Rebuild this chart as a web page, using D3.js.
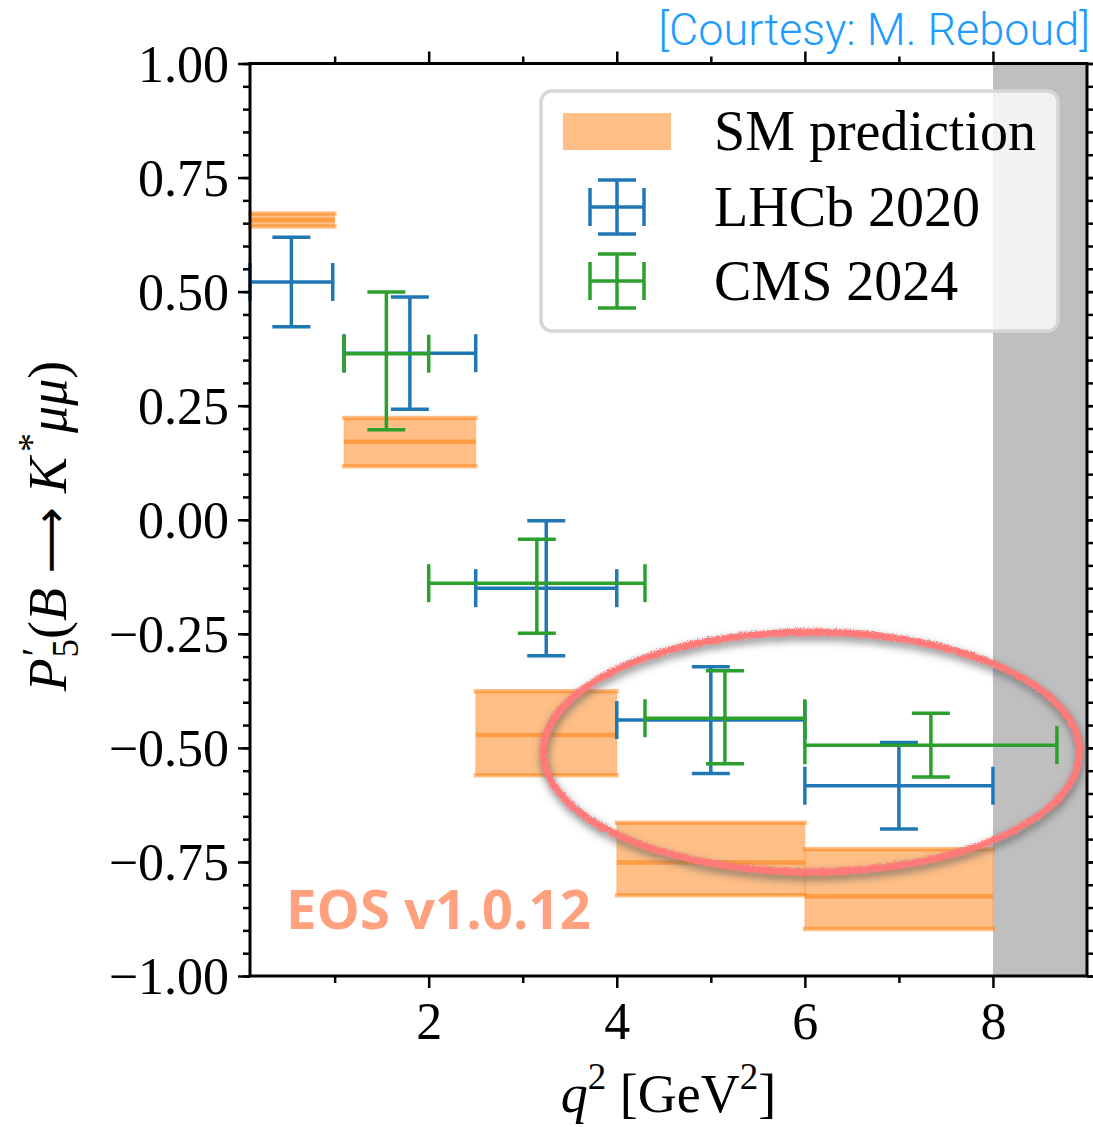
<!DOCTYPE html>
<html>
<head>
<meta charset="utf-8">
<script src="https://cdn.jsdelivr.net/npm/d3@7"></script>
<style>
  html, body { margin: 0; padding: 0; background: #fff; }
  svg { display: block; }
</style>
</head>
<body>
<svg id="chart" width="1093" height="1127"></svg>
<script>
// q^2 bins and values of the angular observable P5' for B -> K* mu mu

// SM prediction (EOS): bin edges, central value, band limits
const smBinLow   = [0.1, 1.1, 2.5, 4.0, 6.0];
const smBinHigh  = [1.0, 2.5, 4.0, 6.0, 8.0];
const smCentral  = [0.657, 0.171, -0.472, -0.751, -0.825];
const smBandLow  = [0.643, 0.117, -0.560, -0.823, -0.897];
const smBandHigh = [0.671, 0.223, -0.376, -0.664, -0.722];

// LHCb 2020 measurement
const lhcbX      = [0.54, 1.8, 3.25, 5.0, 7.0];
const lhcbXLow   = [0.1, 1.1, 2.5, 4.0, 6.0];
const lhcbXHigh  = [0.98, 2.5, 4.0, 6.0, 8.0];
const lhcbY      = [0.521, 0.365, -0.150, -0.439, -0.583];
const lhcbErrUp  = [0.098, 0.123, 0.148, 0.117, 0.095];
const lhcbErrDn  = [0.098, 0.123, 0.148, 0.117, 0.095];

// CMS 2024 measurement
const cmsX       = [1.55, 3.15, 5.15, 7.34];
const cmsXLow    = [1.1, 2.0, 4.3, 6.0];
const cmsXHigh   = [2.0, 4.3, 6.0, 8.68];
const cmsY       = [0.364, -0.139, -0.435, -0.494];
const cmsErrUp   = [0.135, 0.096, 0.104, 0.070];
const cmsErrDn   = [0.167, 0.110, 0.100, 0.070];

// Axis ticks
const xMajorTicks = [2, 4, 6, 8];
const xMinorTicks = [1, 3, 5, 7];
const yMajorTicks = [-1.0, -0.75, -0.5, -0.25, 0.0, 0.25, 0.5, 0.75, 1.0];
const yMinorTicks = d3.range(-20, 21).map(i => i * 0.05);

// Excluded region (charmonium) and highlighted region
const vetoRange = [8.0, 9.0];
const highlight = { cx: 6.07, cy: -0.509, rx: 2.85, ry: 0.263 };

const legendLabels = ["SM prediction", "LHCb 2020", "CMS 2024"];

// ---------------------------------------------------------------
const svg = d3.select("#chart");
const plot = { left: 250, right: 1087, top: 63.5, bottom: 976 };

const x = d3.scaleLinear().domain([0.1, 9]).range([plot.left, plot.right]);
const y = d3.scaleLinear().domain([-1, 1]).range([plot.bottom, plot.top]);

const ORANGE = "#ff7f0e", BLUE = "#1f77b4", GREEN = "#2ca02c";
const serif = "'Liberation Serif', 'DejaVu Serif', serif";

// filters for the hand-drawn ring
const defs = svg.append("defs");
const f = defs.append("filter").attr("id", "rough")
  .attr("x", "-15%").attr("y", "-30%").attr("width", "130%").attr("height", "160%");
f.append("feTurbulence").attr("type", "fractalNoise").attr("baseFrequency", 1.2)
  .attr("numOctaves", 3).attr("seed", 5).attr("result", "noise");
f.append("feDisplacementMap").attr("in", "SourceGraphic").attr("in2", "noise")
  .attr("scale", 6).attr("xChannelSelector", "R").attr("yChannelSelector", "G").attr("result", "rough");
f.append("feGaussianBlur").attr("in", "rough").attr("stdDeviation", 4.5).attr("result", "blur");
f.append("feOffset").attr("in", "blur").attr("dx", 1).attr("dy", 4).attr("result", "off");
f.append("feColorMatrix").attr("in", "off").attr("type", "matrix")
  .attr("values", "0 0 0 0 0.12  0 0 0 0 0.12  0 0 0 0 0.12  0 0 0 0.85 0").attr("result", "shadow");
const fm = f.append("feMerge");
fm.append("feMergeNode").attr("in", "shadow");
fm.append("feMergeNode").attr("in", "rough");

// excluded region
svg.append("rect")
  .attr("x", x(vetoRange[0])).attr("y", plot.top)
  .attr("width", x(vetoRange[1]) - x(vetoRange[0]))
  .attr("height", plot.bottom - plot.top)
  .attr("fill", "#bfbfbf");

// SM prediction bands
const sm = smCentral.map((c, i) => ({ x0: smBinLow[i], x1: smBinHigh[i], c, lo: smBandLow[i], hi: smBandHigh[i] }));
const smG = svg.append("g");
smG.selectAll("rect.band").data(sm).join("rect")
  .attr("class", "band")
  .attr("x", d => x(d.x0)).attr("width", d => x(d.x1) - x(d.x0))
  .attr("y", d => y(d.hi)).attr("height", d => y(d.lo) - y(d.hi))
  .attr("fill", ORANGE).attr("fill-opacity", 0.5)
  .attr("stroke", ORANGE).attr("stroke-opacity", 0.2).attr("stroke-width", 1.5);
["lo", "hi"].forEach(k => {
  smG.selectAll("line.edge-" + k).data(sm).join("line")
    .attr("x1", d => x(d.x0) - 2).attr("x2", d => x(d.x1) + 2)
    .attr("y1", d => y(d[k])).attr("y2", d => y(d[k]))
    .attr("stroke", ORANGE).attr("stroke-opacity", 0.5).attr("stroke-width", 4.5);
});
smG.selectAll("line.central").data(sm).join("line")
  .attr("x1", d => x(d.x0)).attr("x2", d => x(d.x1))
  .attr("y1", d => y(d.c)).attr("y2", d => y(d.c))
  .attr("stroke", ORANGE).attr("stroke-opacity", 0.55).attr("stroke-width", 4.5);

// error bars
const CAP = 19;
function errorBars(rows, color) {
  const g = svg.append("g").attr("stroke", color).attr("stroke-width", 3.5).attr("fill", "none");
  rows.forEach(d => {
    const yc = y(d.v), xc = x(d.xc);
    g.append("line").attr("x1", x(d.xl)).attr("x2", x(d.xh)).attr("y1", yc).attr("y2", yc);
    g.append("line").attr("x1", xc).attr("x2", xc).attr("y1", y(d.v + d.up)).attr("y2", y(d.v - d.dn));
    [d.xl, d.xh].forEach(xe => g.append("line")
      .attr("x1", x(xe)).attr("x2", x(xe)).attr("y1", yc - CAP).attr("y2", yc + CAP));
    [d.v + d.up, d.v - d.dn].forEach(ye => g.append("line")
      .attr("x1", xc - CAP).attr("x2", xc + CAP).attr("y1", y(ye)).attr("y2", y(ye)));
  });
}
errorBars(lhcbY.map((v, i) => ({ xc: lhcbX[i], xl: lhcbXLow[i], xh: lhcbXHigh[i], v, up: lhcbErrUp[i], dn: lhcbErrDn[i] })), BLUE);
errorBars(cmsY.map((v, i) => ({ xc: cmsX[i], xl: cmsXLow[i], xh: cmsXHigh[i], v, up: cmsErrUp[i], dn: cmsErrDn[i] })), GREEN);

// axes
function styleAxis(g) {
  g.select(".domain").remove();
  g.selectAll(".tick line").attr("stroke", "#000").attr("stroke-width", 2.5);
  g.selectAll("text").attr("font-family", serif).attr("font-size", 52).attr("fill", "#000");
}
const yMajor = d3.axisLeft(y).tickValues(yMajorTicks).tickSize(12).tickPadding(9).tickFormat(d3.format(".2f"));
const yMinor = d3.axisLeft(y).tickValues(yMinorTicks).tickSize(7).tickFormat("");
svg.append("g").attr("transform", `translate(${plot.left},0)`).call(yMinor).call(styleAxis);
svg.append("g").attr("transform", `translate(${plot.left},0)`).call(yMajor).call(styleAxis)
  .selectAll("text").attr("dy", "0.34em");
svg.append("g").attr("transform", `translate(${plot.right},0)`)
  .call(d3.axisRight(y).tickValues(yMinorTicks).tickSize(7).tickFormat("")).call(styleAxis);
svg.append("g").attr("transform", `translate(${plot.right},0)`)
  .call(d3.axisRight(y).tickValues(yMajorTicks).tickSize(12).tickFormat("")).call(styleAxis);

const xMajor = d3.axisBottom(x).tickValues(xMajorTicks).tickSize(12).tickPadding(14).tickFormat(d3.format("d"));
svg.append("g").attr("transform", `translate(0,${plot.bottom})`).call(xMajor).call(styleAxis);
svg.append("g").attr("transform", `translate(0,${plot.bottom})`)
  .call(d3.axisBottom(x).tickValues(xMinorTicks).tickSize(7).tickFormat("")).call(styleAxis);
svg.append("g").attr("transform", `translate(0,${plot.top})`)
  .call(d3.axisTop(x).tickValues(xMajorTicks).tickSize(12).tickFormat("")).call(styleAxis);
svg.append("g").attr("transform", `translate(0,${plot.top})`)
  .call(d3.axisTop(x).tickValues(xMinorTicks).tickSize(7).tickFormat("")).call(styleAxis);

// frame
svg.append("rect")
  .attr("x", plot.left).attr("y", plot.top)
  .attr("width", plot.right - plot.left).attr("height", plot.bottom - plot.top)
  .attr("fill", "none").attr("stroke", "#000").attr("stroke-width", 3);

// axis labels
const xl = svg.append("text")
  .attr("x", (plot.left + plot.right) / 2).attr("y", 1112)
  .attr("text-anchor", "middle").attr("font-family", serif).attr("font-size", 54);
xl.append("tspan").attr("font-style", "italic").text("q");
xl.append("tspan").attr("font-size", 37).attr("dy", -23).text("2");
xl.append("tspan").attr("dy", 23).text(" [GeV");
xl.append("tspan").attr("font-size", 37).attr("dy", -23).text("2");
xl.append("tspan").attr("dy", 23).text("]");

const yl = svg.append("text")
  .attr("transform", `translate(66,526) rotate(-90)`)
  .attr("text-anchor", "middle").attr("font-family", serif).attr("font-size", 54);
yl.append("tspan").attr("font-style", "italic").text("P");
yl.append("tspan").attr("font-size", 40).attr("dx", 2).attr("dy", -17).text("′");
yl.append("tspan").attr("font-size", 37).attr("dx", -10).attr("dy", 29).text("5");
yl.append("tspan").attr("dy", -12).text("(");
yl.append("tspan").attr("font-style", "italic").text("B");
yl.append("tspan").attr("font-family", "'DejaVu Sans', sans-serif").attr("font-size", 46).text(" ⟶ ");
yl.append("tspan").attr("font-style", "italic").text("K");
yl.append("tspan").attr("font-size", 38).attr("dx", 5).attr("dy", -22).text("*");
yl.append("tspan").attr("font-style", "italic").attr("dy", 22).text("μμ");
yl.append("tspan").text(")");

// legend
const lg = svg.append("g");
lg.append("rect").attr("x", 541).attr("y", 91).attr("width", 517).attr("height", 240).attr("rx", 11)
  .attr("fill", "#fff").attr("fill-opacity", 0.8).attr("stroke", "#d6d6d6").attr("stroke-width", 3.5);
lg.append("rect").attr("x", 563).attr("y", 113).attr("width", 108).attr("height", 37)
  .attr("fill", ORANGE).attr("fill-opacity", 0.5);
function legendMarker(cx, cy, color) {
  const g = lg.append("g").attr("stroke", color).attr("stroke-width", 3.5);
  g.append("line").attr("x1", cx - 27).attr("x2", cx + 27).attr("y1", cy).attr("y2", cy);
  g.append("line").attr("x1", cx).attr("x2", cx).attr("y1", cy - 27).attr("y2", cy + 27);
  [cx - 27, cx + 27].forEach(xx => g.append("line").attr("x1", xx).attr("x2", xx).attr("y1", cy - CAP).attr("y2", cy + CAP));
  [cy - 27, cy + 27].forEach(yy => g.append("line").attr("x1", cx - CAP).attr("x2", cx + CAP).attr("y1", yy).attr("y2", yy));
}
legendMarker(617, 207, BLUE);
legendMarker(617, 281, GREEN);
lg.selectAll("text.leg").data(legendLabels).join("text")
  .attr("x", 714).attr("y", (d, i) => [150, 226, 300][i])
  .attr("font-family", serif).attr("font-size", 56).attr("fill", "#000")
  .text(d => d);

// highlighted region
svg.append("ellipse")
  .attr("cx", x(highlight.cx)).attr("cy", y(highlight.cy))
  .attr("rx", x(highlight.cx + highlight.rx) - x(highlight.cx))
  .attr("ry", y(highlight.cy - highlight.ry) - y(highlight.cy))
  .attr("fill", "none").attr("stroke", "#ff7a78").attr("stroke-width", 7)
  .attr("filter", "url(#rough)");

// version tag and credit
svg.append("text").attr("x", 286).attr("y", 929)
  .attr("font-family", "'Open Sans', 'DejaVu Sans', sans-serif").attr("font-weight", 700)
  .attr("font-size", 54.5).attr("fill", "#ffa07e").text("EOS v1.0.12");
svg.append("text").attr("x", 1090).attr("y", 45).attr("text-anchor", "end")
  .attr("font-family", "Roboto, 'Liberation Sans', sans-serif").attr("font-weight", 300)
  .attr("font-size", 45).attr("fill", "#1e9bff").text("[Courtesy: M. Reboud]");
</script>
</body>
</html>
